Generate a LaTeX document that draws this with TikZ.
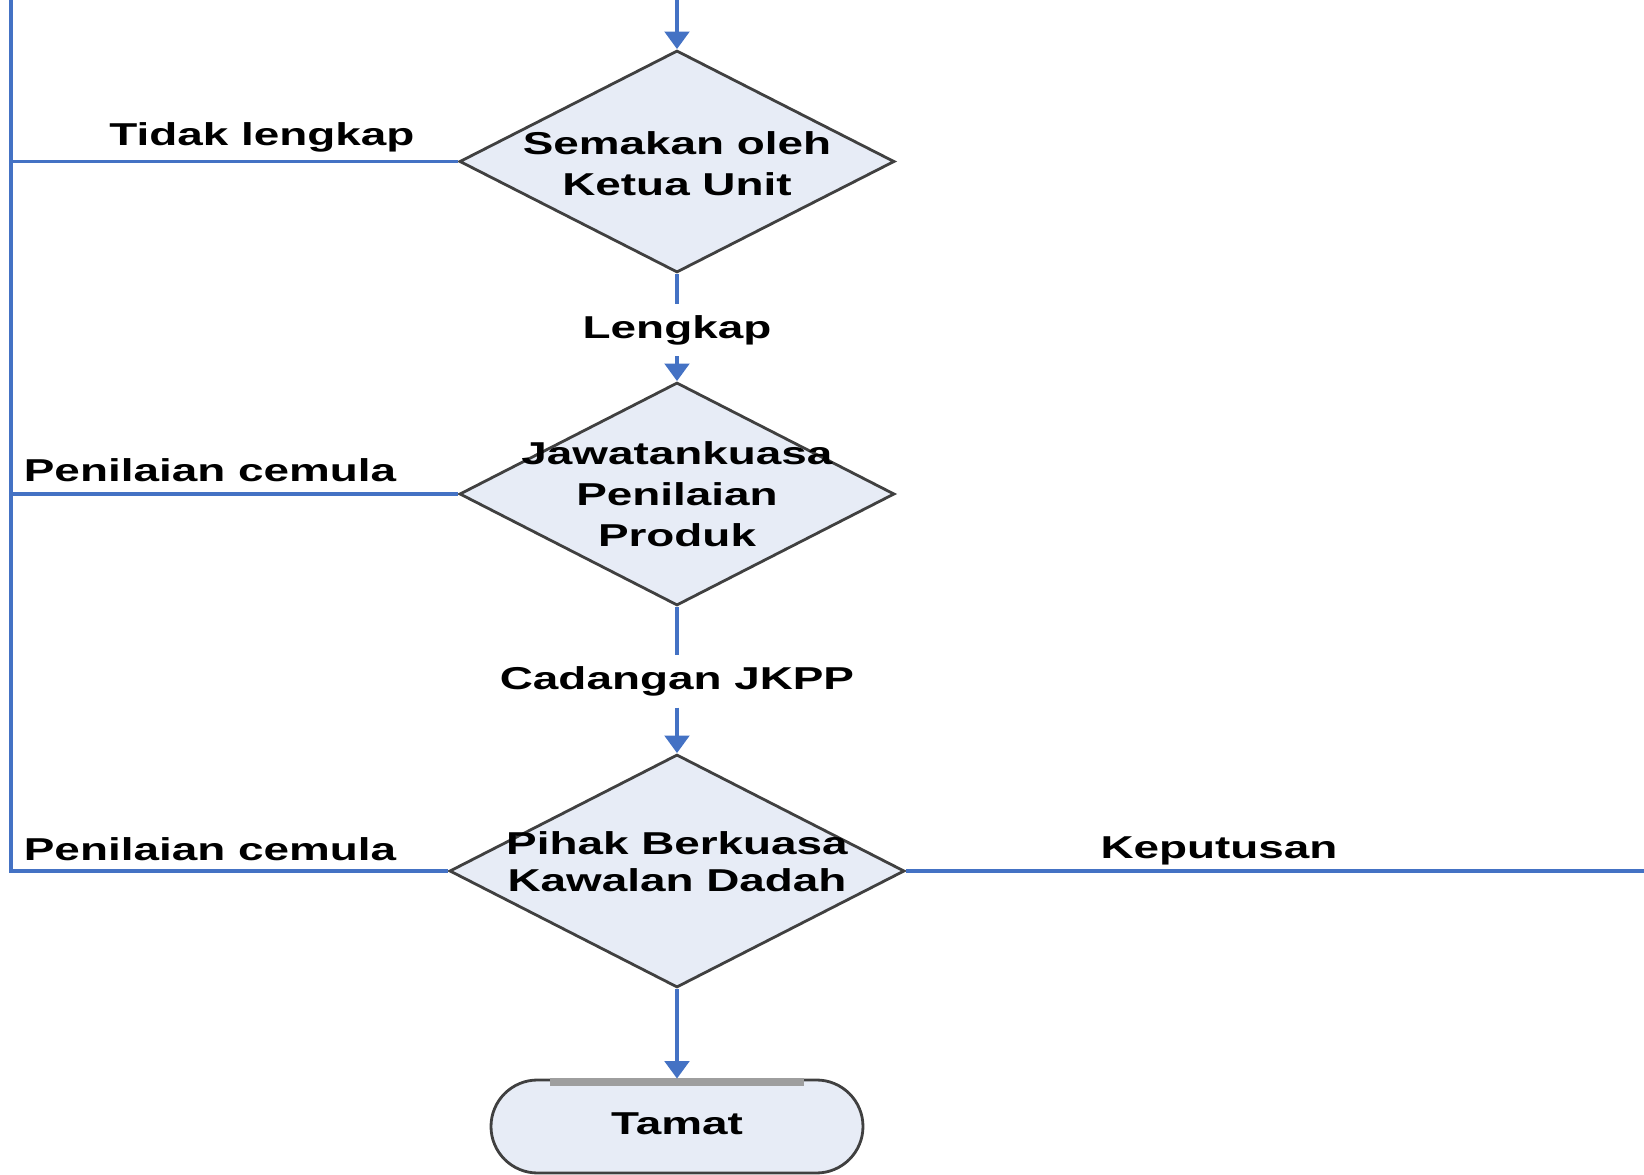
\documentclass[tikz,border=0pt]{standalone}
\usepackage{fontspec}
\setmainfont{Liberation Sans}
\usetikzlibrary{shapes.geometric,shapes.misc,arrows.meta}
\definecolor{flowblue}{RGB}{68,114,196}
\definecolor{boxfill}{RGB}{231,236,246}
\definecolor{edgegray}{RGB}{64,64,64}
\def\sx#1{\scalebox{1.45}[1]{#1}}

\begin{document}
\begin{tikzpicture}[
	decision/.style={diamond, draw=edgegray, line width=0.8pt, fill=boxfill, inner sep=0pt},
	terminal/.style={rounded rectangle, draw=edgegray, line width=0.8pt, fill=boxfill, minimum width=3.72cm, minimum height=0.93cm, inner sep=0pt},
	txt/.style={font=\bfseries\fontsize{9}{11.7}\selectfont, align=center, inner sep=0pt},
	lbl/.style={txt, fill=white, inner sep=3pt},
	flow/.style={draw=flowblue, line width=1pt},
	arr/.style={flow, -{Triangle[width=7pt,length=5pt]}}
	]
	%%%%% START %%%%%
	
	\useasboundingbox (0,0) rectangle (16.44,-11.75);
	
	\node[decision, minimum width=4.35cm, minimum height=2.22cm] (semak) at (6.77,-1.615) {};
	\node[txt] (semakt) at ([yshift=-0.02cm]semak) {\sx{Semakan oleh}\\\sx{Ketua Unit}};
	
	\node[decision, minimum width=4.35cm, minimum height=2.23cm] (jkpp) at (6.77,-4.94) {};
	\node[txt] (jkppt) at (jkpp) {\sx{Jawatankuasa}\\\sx{Penilaian}\\\sx{Produk}};
	
	\node[decision, minimum width=4.55cm, minimum height=2.33cm] (pihak) at (6.77,-8.71) {};
	\node[txt, font=\bfseries\fontsize{9}{10.6}\selectfont] (pihakt) at ([yshift=0.09cm]pihak) {\sx{Pihak Berkuasa}\\\sx{Kawalan Dadah}};
	
	\node[terminal] (tamat) at (6.77,-11.265) {};
	\node[txt] (tamatt) at ([yshift=0.03cm]tamat) {\sx{Tamat}};
	\draw[line width=2.3pt, color=black!38] ([xshift=-1.27cm, yshift=-0.03cm]tamat.north) -- ([xshift=1.27cm, yshift=-0.03cm]tamat.north);
	
	\coordinate (mula) at (6.77,0);
	\coordinate (kiriatas) at (0.11,0);
	\coordinate (kiribawah) at (0.11,-8.71);
	\coordinate (kanan) at (16.44,-8.71);
	
	\node[lbl] (lengkap) at (6.77,-3.30) {\sx{Lengkap}};
	\node[lbl] (cadangan) at (6.77,-6.815) {\sx{Cadangan JKPP}};
	\node[txt] (tidak) at (2.62,-1.375) {\sx{Tidak lengkap}};
	\node[txt] (cemula1) at (2.10,-4.70) {\sx{Penilaian cemula}};
	\node[txt] (cemula2) at (2.10,-8.49) {\sx{Penilaian cemula}};
	\node[txt] (keputusan) at (12.19,-8.505) {\sx{Keputusan}};
	
	\draw[arr] (mula) -- (semak.north);
	\draw[flow] (semak.south) -- (lengkap);
	\draw[arr] (lengkap) -- (jkpp.north);
	\draw[flow] (jkpp.south) -- (cadangan);
	\draw[arr] (cadangan) -- (pihak.north);
	\draw[arr] (pihak.south) -- (tamat.north);
	
	\draw[flow] (kiriatas) -- (kiribawah) -- (pihak.west);
	\draw[flow] (semak.west) -- (semak.west -| kiriatas);
	\draw[flow] (jkpp.west) -- (jkpp.west -| kiriatas);
	\draw[flow] (pihak.east) -- (kanan);
	
	%%%%% END %%%%%
\end{tikzpicture}
\end{document}
